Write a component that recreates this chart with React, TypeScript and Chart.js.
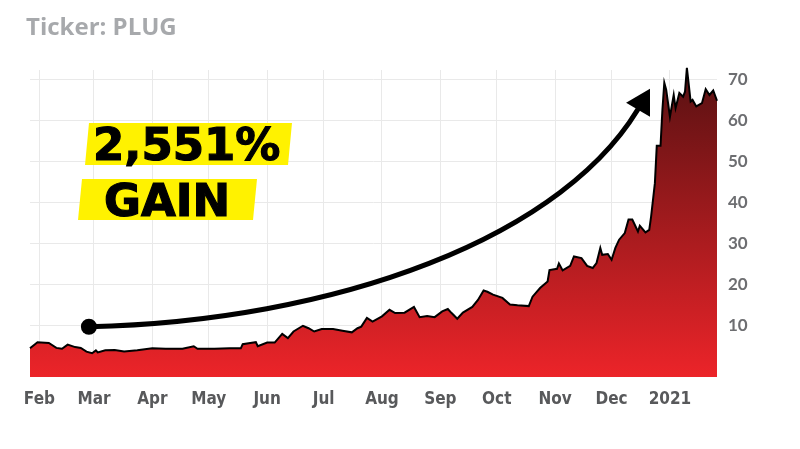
import React, { useEffect, useRef } from 'react';
import { Chart, registerables } from 'chart.js';

Chart.register(...registerables);

// Days since Jan 27, 2020
const dayOffsets = [
  0, 4, 10, 14, 17, 20, 24, 27, 30, 33, 35, 36, 40, 45, 50, 57, 65, 72, 81, 87,
  89, 98, 106, 112, 113, 117, 120, 121, 126, 130, 134, 137, 140, 145, 148, 151, 155, 161, 166, 171,
  174, 176, 179, 182, 187, 191, 194, 199, 204, 207, 211, 215, 219, 222, 224, 227, 230, 235, 238, 241,
  243, 246, 251, 255, 259, 265, 267, 271, 275, 276, 280, 281, 283, 287, 289, 293, 296, 299, 301, 303,
  304, 307, 309, 311, 313, 316, 318, 320, 323, 324, 327, 329, 330, 332, 333, 335, 336, 337, 338, 340,
  342, 343, 345, 347, 348, 349, 351, 352, 354, 357, 359, 361, 363, 365,
];

const prices = [
  4.5, 6.0, 5.8, 4.6, 4.4, 5.4, 4.8, 4.6, 3.7, 3.3, 4.0, 3.5, 4.0, 4.1, 3.7, 4.0, 4.5, 4.4, 4.4, 5.0,
  4.4, 4.4, 4.5, 4.5, 5.5, 5.8, 6.0, 5.0, 5.9, 5.9, 8.0, 7.0, 8.6, 10.0, 9.4, 8.6, 9.2, 9.2, 8.8, 8.4,
  9.4, 9.8, 11.9, 11.0, 12.3, 13.9, 13.1, 13.2, 14.6, 12.1, 12.4, 12.1, 13.5, 14.1, 13.1, 11.7, 13.2, 14.6, 16.3, 18.6,
  18.3, 17.6, 16.8, 15.2, 15.0, 14.8, 17.1, 19.2, 20.8, 23.6, 23.9, 25.2, 23.5, 24.6, 26.9, 26.5, 24.6, 24.1, 25.3, 29.0,
  27.3, 27.5, 26.1, 29.0, 31.0, 32.6, 35.9, 35.9, 33.0, 34.4, 32.8, 33.4, 36.7, 44.8, 53.9, 53.9, 62.7, 69.3, 67.6, 61.0,
  66.3, 63.1, 66.8, 65.9, 67.1, 72.9, 64.7, 65.1, 63.5, 64.3, 67.7, 66.3, 67.4, 64.9,
];

const monthTickDays = [5, 34, 65, 95, 126, 156, 187, 218, 248, 279, 309, 340];
const monthTickLabels = ['Feb', 'Mar', 'Apr', 'May', 'Jun', 'Jul', 'Aug', 'Sep', 'Oct', 'Nov', 'Dec', '2021'];
const yTickValues = [0, 10, 20, 30, 40, 50, 60, 70];

const titleText = 'Ticker: PLUG';
const gainLine1 = '2,551%';
const gainLine2 = 'GAIN';

// Annotation arrow, in data coordinates [day, price]
const arrowStart = [31.3, 9.76];
const arrowCtrl1 = [159, 11];
const arrowCtrl2 = [287, 31];
const arrowEnd = [326.8, 65.9];
const arrowHead = [
  [329.4, 67.8],
  [316.7, 64.4],
  [329.4, 61.0],
];

const arrowPlugin = {
  id: 'gainArrow',
  afterDatasetsDraw(chart: any) {
    const { ctx, scales } = chart;
    const xs = scales.x;
    const ys = scales.y;
    const p = (pt: number[]) => [xs.getPixelForValue(pt[0]), ys.getPixelForValue(pt[1])];
    const s = p(arrowStart);
    const c1 = p(arrowCtrl1);
    const c2 = p(arrowCtrl2);
    const e = p(arrowEnd);
    ctx.save();
    ctx.strokeStyle = '#000';
    ctx.fillStyle = '#000';
    ctx.lineWidth = 5;
    ctx.beginPath();
    ctx.moveTo(s[0], s[1]);
    ctx.bezierCurveTo(c1[0], c1[1], c2[0], c2[1], e[0], e[1]);
    ctx.stroke();
    ctx.beginPath();
    ctx.arc(s[0], s[1], 8, 0, Math.PI * 2);
    ctx.fill();
    ctx.beginPath();
    arrowHead.forEach((pt, i) => {
      const q = p(pt);
      if (i === 0) ctx.moveTo(q[0], q[1]);
      else ctx.lineTo(q[0], q[1]);
    });
    ctx.closePath();
    ctx.fill();
    ctx.restore();
  },
};

export default function App() {
  const canvasRef = useRef<HTMLCanvasElement | null>(null);

  useEffect(() => {
    const canvas = canvasRef.current;
    if (!canvas) return;
    const chart = new Chart(canvas, {
      type: 'line',
      data: {
        datasets: [
          {
            data: dayOffsets.map((d, i) => ({ x: d, y: prices[i] })),
            borderColor: '#000000',
            borderWidth: 2,
            pointRadius: 0,
            tension: 0,
            fill: 'start',
            clip: false as any,
            backgroundColor: (ctx: any) => {
              const { chart: ch } = ctx;
              const area = ch.chartArea;
              if (!area) return '#c62828';
              const g = ch.ctx.createLinearGradient(0, area.bottom, 0, area.top);
              g.addColorStop(0, '#ec2429');
              g.addColorStop(1, '#581112');
              return g;
            },
          },
        ],
      },
      options: {
        responsive: false,
        animation: false,
        layout: { padding: { left: 30, top: 70, right: 0, bottom: 0 } },
        plugins: {
          legend: { display: false },
          tooltip: { enabled: false },
          title: { display: false },
        },
        scales: {
          x: {
            type: 'linear',
            min: 0,
            max: 365,
            border: { display: false },
            grid: { color: '#e9e9e9', drawTicks: false, lineWidth: 1 },
            afterBuildTicks: (scale: any) => {
              scale.ticks = monthTickDays.map((v) => ({ value: v }));
            },
            afterFit: (scale: any) => {
              scale.height = 72;
            },
            ticks: {
              autoSkip: false,
              maxRotation: 0,
              padding: 12,
              color: '#58595b',
              font: { family: "'Liberation Sans Narrow', 'DejaVu Sans Condensed', Lato, sans-serif", size: 17, weight: 'bold' },
              callback: (value: any) => {
                const i = monthTickDays.indexOf(Number(value));
                return i >= 0 ? monthTickLabels[i] : '';
              },
            },
          },
          y: {
            type: 'linear',
            position: 'right',
            min: -2.5,
            max: 72.4,
            border: { display: false },
            grid: { color: '#e9e9e9', drawTicks: false, lineWidth: 1 },
            afterBuildTicks: (scale: any) => {
              scale.ticks = yTickValues.map((v) => ({ value: v }));
            },
            afterFit: (scale: any) => {
              scale.width = 83;
            },
            ticks: {
              padding: 11,
              color: '#6d6e71',
              font: { family: 'Lato, sans-serif', size: 17, weight: 'bold' },
              callback: (value: any) => (Number(value) === 0 ? '' : String(value)),
            },
          },
        },
      },
      plugins: [arrowPlugin],
    });
    return () => chart.destroy();
  }, []);

  const gainFont: React.CSSProperties = {
    position: 'absolute',
    fontFamily: "'DejaVu Sans', sans-serif",
    fontWeight: 'bold',
    fontSize: 45,
    lineHeight: '45px',
    color: '#000',
    whiteSpace: 'nowrap',
    letterSpacing: '0px',
    WebkitTextStroke: '1.2px #000',
  };

  return (
    <div style={{ position: 'fixed', left: 0, top: 0, width: 800, height: 449, background: '#fff', overflow: 'hidden' }}>
      <canvas ref={canvasRef} width={800} height={449} style={{ display: 'block', position: 'absolute', left: 0, top: 0 }} />
      <div
        style={{
          position: 'absolute',
          left: 26,
          top: 14,
          fontFamily: "'Open Sans', sans-serif",
          fontWeight: 'bold',
          fontSize: 24,
          lineHeight: '23px',
          color: '#a7a9ac',
          whiteSpace: 'nowrap',
        }}
      >
        {titleText}
      </div>
      <div
        style={{
          position: 'absolute',
          left: 85,
          top: 123,
          width: 207,
          height: 42,
          background: '#fff200',
          clipPath: 'polygon(4px 0, 100% 0, calc(100% - 4px) 100%, 0 100%)',
        }}
      />
      <div
        style={{
          position: 'absolute',
          left: 78,
          top: 179,
          width: 179,
          height: 41,
          background: '#fff200',
          clipPath: 'polygon(4px 0, 100% 0, calc(100% - 4px) 100%, 0 100%)',
        }}
      />
      <div style={{ ...gainFont, left: 93, top: 122 }}>{gainLine1}</div>
      <div style={{ ...gainFont, left: 104, top: 178 }}>{gainLine2}</div>
    </div>
  );
}
